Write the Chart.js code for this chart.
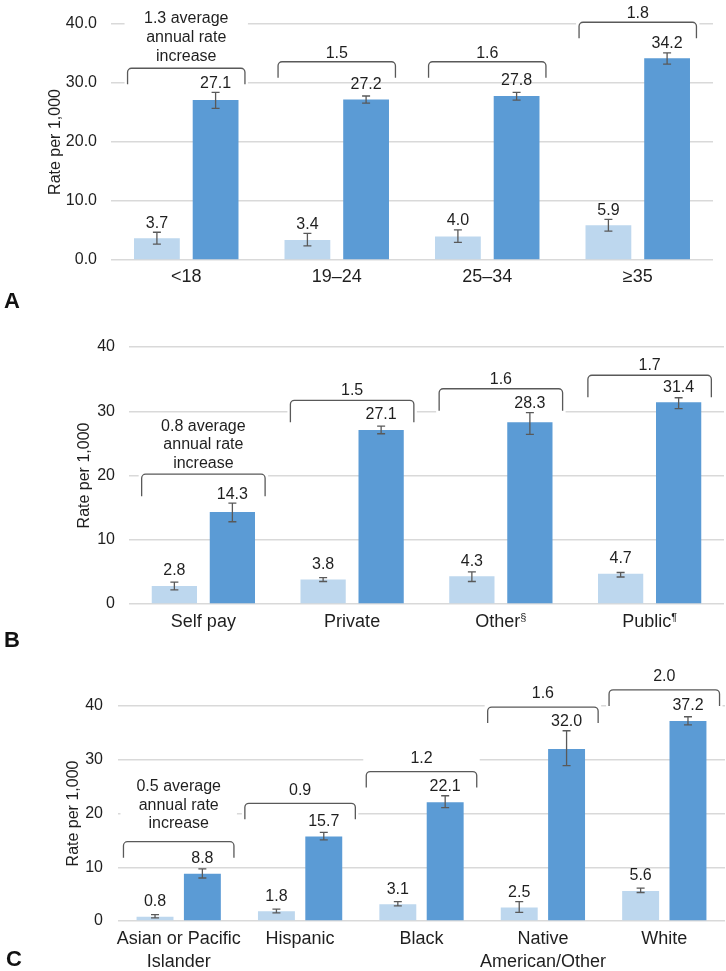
<!DOCTYPE html>
<html>
<head>
<meta charset="utf-8">
<script src="https://cdn.jsdelivr.net/npm/chart.js@4.4.1/dist/chart.umd.min.js"></script>
<style>
  html, body { margin: 0; padding: 0; background: #ffffff; }
  #wrap { position: relative; width: 726px; height: 971px; overflow: hidden; background: #fff; }
  canvas { position: absolute; left: 0; }
</style>
</head>
<body>
<div id="wrap">
  <canvas id="chartA" width="726" height="320" style="top:0px"></canvas>
  <canvas id="chartB" width="726" height="335" style="top:320px"></canvas>
  <canvas id="chartC" width="726" height="321" style="top:650px"></canvas>
</div>
<script>
// ---------------- DATA ----------------
// Panel A: maternal age
const ageCategories = ['<18', '19–24', '25–34', '≥35'];
const ageBefore      = [3.7, 3.4, 4.0, 5.9];
const ageBeforeLow   = [2.7, 2.4, 3.0, 4.9];
const ageBeforeHigh  = [4.7, 4.5, 5.1, 6.9];
const ageAfter       = [27.1, 27.2, 27.8, 34.2];
const ageAfterLow    = [25.7, 26.6, 27.1, 33.2];
const ageAfterHigh   = [28.4, 27.8, 28.4, 35.1];
const ageIncrease    = ['1.3', '1.5', '1.6', '1.8'];

// Panel B: payer
const payerCategories = ['Self pay', 'Private', 'Other§', 'Public¶'];
const payerBefore     = [2.8, 3.8, 4.3, 4.7];
const payerBeforeLow  = [2.2, 3.5, 3.5, 4.2];
const payerBeforeHigh = [3.4, 4.1, 5.0, 4.9];
const payerAfter      = [14.3, 27.1, 28.3, 31.4];
const payerAfterLow   = [12.8, 26.5, 26.4, 30.4];
const payerAfterHigh  = [15.7, 27.7, 29.8, 32.1];
const payerIncrease   = ['0.8', '1.5', '1.6', '1.7'];

// Panel C: race/ethnicity
const raceCategories = [['Asian or Pacific', 'Islander'], 'Hispanic', 'Black', ['Native', 'American/Other'], 'White'];
const raceBefore     = [0.8, 1.8, 3.1, 2.5, 5.6];
const raceBeforeLow  = [0.6, 1.5, 2.8, 1.6, 5.3];
const raceBeforeHigh = [1.2, 2.2, 3.6, 3.6, 6.1];
const raceAfter      = [8.8, 15.7, 22.1, 32.0, 37.2];
const raceAfterLow   = [8.0, 15.1, 21.1, 28.9, 36.5];
const raceAfterHigh  = [9.7, 16.5, 23.3, 35.4, 38.0];
const raceIncrease   = ['0.5', '0.9', '1.2', '1.6', '2.0'];

const yTickValues = [0, 10, 20, 30, 40];

// annotation placement (bracket heights, in axis units)
const ageBracketLevel   = [32.5, 33.6, 33.6, 40.3];
const payerBracketLevel = [20.2, 31.7, 33.5, 35.6];
const raceBracketLevel  = [14.75, 21.9, 27.8, 39.8, 43.0];

// ---------------- STYLE ----------------
const FONT = '"Liberation Sans", Arial, Helvetica, sans-serif';
const TEXT = '#1f1f1f';
const LIGHT = '#BDD7EE';
const DARK = '#5B9BD5';
const GRID = '#d9d9d9';
const ERR = '#595959';
const BRACKET = '#595959';

function labelLines(inc, i) {
  return i === 0 ? [inc[0] + ' average', 'annual rate', 'increase'] : [inc[i]];
}

function bracketGeom(chart, p, i) {
  const xs = chart.scales.x, ys = chart.scales.y;
  const n = chart.data.labels.length;
  const cw = (xs.right - xs.left) / n;
  const cx = xs.getPixelForValue(i);
  const half = cw * p.bracketFrac / 2;
  const top = ys.getPixelForValue(p.bracketLevel[i]);
  return { l: cx - half, r: cx + half, top: top, bot: top + p.legLen, cx: cx };
}

const annotPlugin = {
  id: 'annot',
  beforeDatasetsDraw(chart, args, p) {
    const ctx = chart.ctx;
    ctx.save();
    ctx.fillStyle = '#ffffff';
    for (let i = 0; i < chart.data.labels.length; i++) {
      const g = bracketGeom(chart, p, i);
      const lines = labelLines(p.increase, i);
      const gap = lines.length > 1 ? p.gapMulti : p.gapSingle;
      const lastY = g.top - gap;
      const firstY = lastY - (lines.length - 1) * p.lineH;
      const boxTop = firstY - 11;
      const boxBot = g.bot + 4;
      ctx.fillRect(g.l - 3, boxTop, (g.r - g.l) + 6, boxBot - boxTop);
    }
    ctx.restore();
  },
  afterDatasetsDraw(chart, args, p) {
    const ctx = chart.ctx;
    const ys = chart.scales.y;
    ctx.save();
    // error bars + value labels
    const lows = [p.beforeLow, p.afterLow], highs = [p.beforeHigh, p.afterHigh];
    for (let d = 0; d < 2; d++) {
      const meta = chart.getDatasetMeta(d);
      meta.data.forEach((el, j) => {
        const x = el.x;
        const yl = ys.getPixelForValue(lows[d][j]);
        const yh = ys.getPixelForValue(highs[d][j]);
        ctx.strokeStyle = ERR;
        ctx.lineWidth = 1.3;
        ctx.beginPath();
        ctx.moveTo(x, yl); ctx.lineTo(x, yh);
        ctx.moveTo(x - 4, yl); ctx.lineTo(x + 4, yl);
        ctx.moveTo(x - 4, yh); ctx.lineTo(x + 4, yh);
        ctx.stroke();
        const v = chart.data.datasets[d].data[j];
        const ly = Math.min(el.y - 15, yh - 9);
        ctx.fillStyle = TEXT;
        ctx.font = '16px ' + FONT;
        ctx.textAlign = 'center';
        ctx.textBaseline = 'middle';
        ctx.fillText(v.toFixed(1), x, ly);
      });
    }
    // brackets + labels
    for (let i = 0; i < chart.data.labels.length; i++) {
      const g = bracketGeom(chart, p, i);
      const rr = 4;
      ctx.strokeStyle = BRACKET;
      ctx.lineWidth = 1.3;
      ctx.beginPath();
      ctx.moveTo(g.l, g.bot);
      ctx.lineTo(g.l, g.top + rr);
      ctx.arcTo(g.l, g.top, g.l + rr, g.top, rr);
      ctx.lineTo(g.r - rr, g.top);
      ctx.arcTo(g.r, g.top, g.r, g.top + rr, rr);
      ctx.lineTo(g.r, g.bot);
      ctx.stroke();
      const lines = labelLines(p.increase, i);
      const gap = lines.length > 1 ? p.gapMulti : p.gapSingle;
      const lastY = g.top - gap;
      ctx.fillStyle = TEXT;
      ctx.font = '16px ' + FONT;
      ctx.textAlign = 'center';
      ctx.textBaseline = 'middle';
      lines.forEach((t, k) => {
        ctx.fillText(t, g.cx, lastY - (lines.length - 1 - k) * p.lineH);
      });
    }
    // category labels (with superscript footnote marks)
    const xs = chart.scales.x;
    const base = chart.chartArea.bottom + p.xLabelOffset;
    chart.data.labels.forEach((lab, i) => {
      const arr = Array.isArray(lab) ? lab : [lab];
      const cx = xs.getPixelForValue(i);
      arr.forEach((t, k) => {
        const y = base + k * 23;
        ctx.fillStyle = TEXT;
        ctx.textBaseline = 'middle';
        const last = t.slice(-1);
        if (last === '§' || last === '¶') {
          const main = t.slice(0, -1);
          ctx.font = '18px ' + FONT;
          const w1 = ctx.measureText(main).width;
          ctx.font = '11px ' + FONT;
          const w2 = ctx.measureText(last).width;
          const x0 = cx - (w1 + w2) / 2;
          ctx.textAlign = 'left';
          ctx.font = '18px ' + FONT;
          ctx.fillText(main, x0, y);
          ctx.font = '11px ' + FONT;
          ctx.fillText(last, x0 + w1, y - 4);
        } else {
          ctx.font = '18px ' + FONT;
          ctx.textAlign = 'center';
          ctx.fillText(t, cx, y);
        }
      });
    });
    // panel letter
    ctx.fillStyle = '#111';
    ctx.font = 'bold 22px ' + FONT;
    ctx.textAlign = 'left';
    ctx.textBaseline = 'middle';
    ctx.fillText(p.letter, p.letterX, p.letterY);
    ctx.restore();
  }
};

function makeChart(id, c) {
  return new Chart(document.getElementById(id), {
    type: 'bar',
    data: {
      labels: c.labels,
      datasets: [
        { data: c.before, backgroundColor: LIGHT, borderWidth: 0 },
        { data: c.after, backgroundColor: DARK, borderWidth: 0 }
      ]
    },
    options: {
      responsive: false,
      animation: false,
      devicePixelRatio: 1,
      layout: { padding: { top: c.padTop, right: c.padRight, bottom: 0, left: 0 } },
      datasets: { bar: { categoryPercentage: 0.78, barPercentage: 0.78 } },
      plugins: {
        legend: { display: false },
        tooltip: { enabled: false },
        annot: c.annot
      },
      scales: {
        x: {
          grid: { display: false },
          border: { display: false },
          ticks: { display: false },
          afterFit(s) { s.height = c.xH; }
        },
        y: {
          min: 0, max: 40,
          afterBuildTicks(s) { s.ticks = yTickValues.map(v => ({ value: v })); },
          ticks: {
            callback: v => c.decimals ? Number(v).toFixed(1) : String(v),
            font: { family: FONT, size: 16 },
            color: TEXT,
            padding: c.tickPad
          },
          grid: { color: GRID, lineWidth: 1.5, drawTicks: false },
          border: { display: false },
          title: {
            display: true,
            text: 'Rate per 1,000',
            font: { family: FONT, size: 16, lineHeight: 1.2 },
            color: TEXT,
            padding: { top: c.titlePad, bottom: 0 }
          },
          afterFit(s) { s.width = c.yW; }
        }
      }
    },
    plugins: [annotPlugin]
  });
}

makeChart('chartA', {
  labels: ageCategories, before: ageBefore, after: ageAfter,
  padTop: 24, padRight: 13, xH: 60, yW: 111, tickPad: 14, titlePad: 45.5, decimals: true,
  annot: {
    beforeLow: ageBeforeLow, beforeHigh: ageBeforeHigh, afterLow: ageAfterLow, afterHigh: ageAfterHigh,
    increase: ageIncrease, bracketLevel: ageBracketLevel, bracketFrac: 0.78, legLen: 16,
    gapSingle: 8.5, gapMulti: 12, lineH: 19, xLabelOffset: 17, letter: 'A', letterX: 4, letterY: 302
  }
});

makeChart('chartB', {
  labels: payerCategories, before: payerBefore, after: payerAfter,
  padTop: 27, padRight: 2, xH: 51, yW: 129, tickPad: 14, titlePad: 74.5, decimals: false,
  annot: {
    beforeLow: payerBeforeLow, beforeHigh: payerBeforeHigh, afterLow: payerAfterLow, afterHigh: payerAfterHigh,
    increase: payerIncrease, bracketLevel: payerBracketLevel, bracketFrac: 0.83, legLen: 22,
    gapSingle: 9.5, gapMulti: 11, lineH: 18.5, xLabelOffset: 18, letter: 'B', letterX: 4, letterY: 321
  }
});

makeChart('chartC', {
  labels: raceCategories, before: raceBefore, after: raceAfter,
  padTop: 56, padRight: 1, xH: 50, yW: 118, tickPad: 15, titlePad: 64, decimals: false,
  annot: {
    beforeLow: raceBeforeLow, beforeHigh: raceBeforeHigh, afterLow: raceAfterLow, afterHigh: raceAfterHigh,
    increase: raceIncrease, bracketLevel: raceBracketLevel, bracketFrac: 0.91, legLen: 16,
    gapSingle: 13, gapMulti: 18, lineH: 18.5, xLabelOffset: 18, letter: 'C', letterX: 6, letterY: 310
  }
});
</script>
</body>
</html>
